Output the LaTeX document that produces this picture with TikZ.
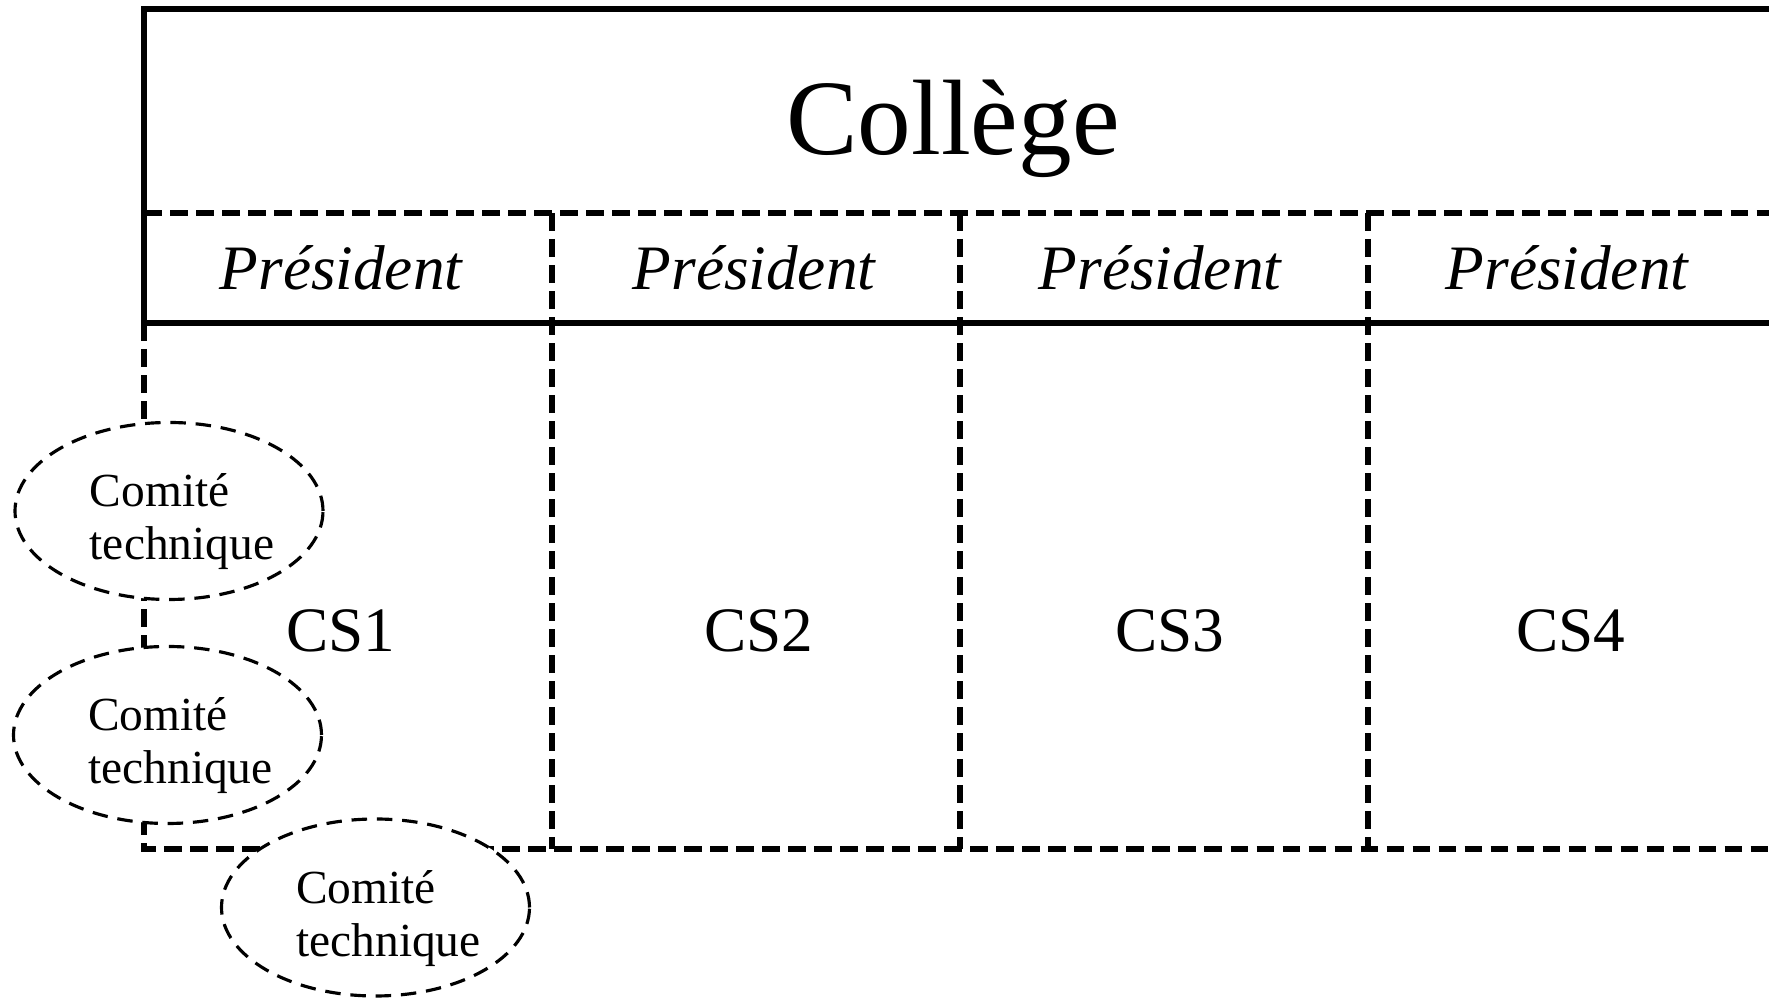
\documentclass[tikz,border=0pt]{standalone}
\usepackage{fontspec}
\setmainfont{Liberation Serif}
\usepackage{tikz}
\usetikzlibrary{shapes,calc}
\tikzstyle{frame} = [draw, line width=1.6pt, line join=miter]
\tikzstyle{dashframe} = [draw, line width=1.7pt, dash pattern=on 5pt off 2.4pt]
\tikzstyle{comite} = [ellipse, draw, fill=white, line width=0.9pt, dash pattern=on 4.4pt off 2.8pt, minimum width=3.08cm, minimum height=1.77cm, inner sep=0pt]
\tikzstyle{comtext} = [align=left, inner sep=0pt, font=\fontsize{13.5}{15.1}\selectfont]
\tikzstyle{pres} = [anchor=base, inner sep=0pt, font=\fontsize{18}{22}\selectfont\itshape]
\tikzstyle{cs} = [anchor=base, inner sep=0pt, font=\fontsize{18}{22}\selectfont]
\begin{document}
\begin{tikzpicture}
\clip (0,0) rectangle (17.69,9.99);

% college frame
\path [frame] (1.44,6.76) -- (1.44,9.90) -- (17.76,9.90) -- (17.76,6.76) -- cycle;
\path [dashframe] (1.44,7.86) -- (17.76,7.86);
\path [dashframe] (1.44,6.76) -- (1.44,1.50) -- (17.76,1.50);
\foreach \x in {5.52,9.60,13.68}
  \path [dashframe] (\x,7.86) -- (\x,1.50);

\node [anchor=base, inner sep=0pt, font=\fontsize{30.5}{36}\selectfont] (college) at (9.53,8.44) {Collège};

\foreach \x/\n in {3.41/1,7.54/2,11.60/3,15.67/4}
  \node [pres] (pres\n) at (\x,7.09) {Président};
\foreach \x/\n in {3.41/1,7.59/2,11.70/3,15.71/4}
  \node [cs] (cs\n) at (\x,3.47) {CS\n};

% comites techniques
\node [comite] (ct1) at (1.69,4.88) {};
\node [comtext] (ct1txt) at ($(ct1)+(0.13,-0.11)$) {Comité\\technique};
\node [comite] (ct2) at (1.675,2.64) {};
\node [comtext] (ct2txt) at ($(ct2)+(0.13,-0.11)$) {Comité\\technique};
\node [comite] (ct3) at (3.755,0.915) {};
\node [comtext] (ct3txt) at ($(ct3)+(0.13,-0.11)$) {Comité\\technique};

\end{tikzpicture}
\end{document}
